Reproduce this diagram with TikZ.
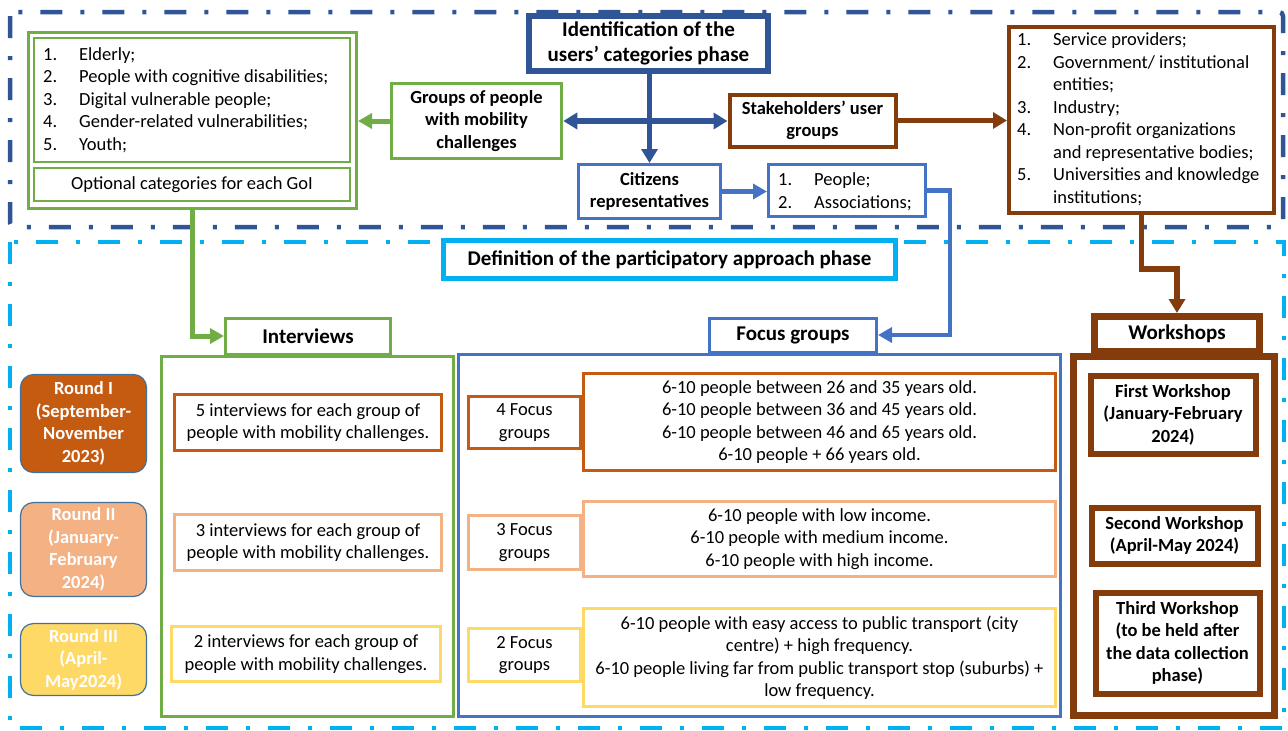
\documentclass[tikz,border=0pt]{standalone}
\usepackage{fontspec}
\setmainfont{Carlito}
\usetikzlibrary{arrows.meta}
\definecolor{dblue}{HTML}{2F5597}
\definecolor{cyanb}{HTML}{00B0F0}
\definecolor{grn}{HTML}{70AD47}
\definecolor{brn}{HTML}{843C0C}
\definecolor{blu}{HTML}{4472C4}
\definecolor{org}{HTML}{C55A11}
\definecolor{lorg}{HTML}{F4B183}
\definecolor{ylw}{HTML}{FFD966}
\definecolor{rbord}{HTML}{41719C}
\newcommand\mybody{\fontsize{18.5}{22.5}\selectfont}
\newcommand\mytitle{\fontsize{21}{25}\selectfont\bfseries}
\newcommand\nb[1]{\makebox[36pt][l]{#1}}
\begin{document}
\begin{tikzpicture}[x=1pt,y=-1pt,
  box/.style={draw, fill=white, rectangle, inner sep=0pt, align=center, font=\mybody},
  bbox/.style={box, font=\mybody\bfseries},
  tbox/.style={box, font=\mytitle},
  sz/.style 2 args={minimum width=#1, minimum height=#2},
  rnd/.style={draw=rbord, line width=1.2pt, rounded corners=13pt, text=white, font=\mybody\bfseries, align=center, inner sep=0pt},
  txt/.style={inner sep=0pt, align=left, font=\mybody, anchor=west},
  dashdot/.style={line width=4.5pt, dash pattern=on 22pt off 18pt on 4pt off 18pt},
  tipL/.style={-{Triangle[length=14pt,width=16pt]}},
  tipS/.style={-{Triangle[length=14pt,width=15pt]}}
]
\useasboundingbox (0,0) rectangle (1288,731);
% phase frames
\draw[dblue, dashdot, rounded corners=4pt] (10,12) rectangle (1283,227);
\draw[cyanb, dashdot, line width=4.5pt] (10,242) rectangle (1284,728);

% identification phase
\node[tbox, draw=dblue, line width=6.5pt, sz={239pt}{55pt}] (title) at (648.5,43.5) {Identification of the\\users’ categories phase};
\node[bbox, draw=grn, line width=3.5pt, sz={170pt}{75pt}] (groups) at (476.5,121) {Groups of people\\with mobility\\challenges};
\node[bbox, draw=brn, line width=4pt, sz={166pt}{52pt}] (stake) at (812.5,120.5) {Stakeholders’ user\\groups};
\node[bbox, draw=blu, line width=3pt, sz={142pt}{54pt}] (cit) at (649.5,191.5) {Citizens\\representatives};
\node[box, draw=blu, line width=3pt, sz={157pt}{52pt}] (people) at (847,190.5) {};
\node[txt] (peopleT) at (778,192) {\nb{1.}People;\\\nb{2.}Associations;};

\node[box, draw=brn, line width=4pt, sz={265pt}{186pt}] (slist) at (1141.5,120) {};
\node[txt] (slistT) at (1017,119.5) {\nb{1.}Service providers;\\\nb{2.}Government/ institutional\\\nb{}entities;\\\nb{3.}Industry;\\\nb{4.}Non-profit organizations\\\nb{}and representative bodies;\\\nb{5.}Universities and knowledge\\\nb{}institutions;};

\node[box, draw=grn, line width=3pt, sz={328pt}{176pt}] (glist) at (192.5,120.5) {};
\node[box, draw=grn, line width=1.5pt, sz={316pt}{124pt}] (gl1) at (192,100) {};
\node[box, draw=grn, line width=1.5pt, sz={316pt}{33pt}] (gl2) at (192,184.5) {Optional categories for each GoI};
\node[txt] (gl1T) at (43,100) {\nb{1.}Elderly;\\\nb{2.}People with cognitive disabilities;\\\nb{3.}Digital vulnerable people;\\\nb{4.}Gender-related vulnerabilities;\\\nb{5.}Youth;};

% participatory approach phase
\node[tbox, draw=cyanb, line width=5pt, sz={452pt}{38pt}] (def) at (669.5,259.5) {Definition of the participatory approach phase};

\node[box, draw=grn, line width=3pt, sz={292pt}{360pt}] (intbig) at (307.5,536.5) {};
\node[tbox, draw=grn, line width=3pt, sz={165pt}{36pt}] (intlab) at (308,336) {Interviews};
\node[box, draw=blu, line width=3pt, sz={602pt}{362pt}] (focbig) at (759.5,535.5) {};
\node[tbox, draw=blu, line width=3pt, sz={167pt}{34pt}] (foclab) at (793,335) {Focus groups};
\node[box, draw=brn, line width=7pt, sz={201pt}{359pt}] (wsbig) at (1174,536) {};
\node[tbox, draw=brn, line width=7pt, sz={165pt}{35pt}] (wslab) at (1177,334) {Workshops};

% rounds
\node[rnd, fill=org, sz={126pt}{98pt}] (r1) at (83.5,423.5) {Round I\\(September-\\November\\2023)};
\node[rnd, fill=lorg, sz={126pt}{94pt}] (r2) at (83.5,549.5) {Round II\\(January-\\February\\2024)};
\node[rnd, fill=ylw, sz={126pt}{72pt}] (r3) at (83.5,659.5) {Round III\\(April-\\May2024)};

% interviews
\node[box, draw=org, line width=3.5pt, sz={267pt}{56pt}] (i1) at (308,422.5) {5 interviews for each group of\\people with mobility challenges.};
\node[box, draw=lorg, line width=3.5pt, sz={267pt}{56pt}] (i2) at (308,542.5) {3 interviews for each group of\\people with mobility challenges.};
\node[box, draw=ylw, line width=3.5pt, sz={269pt}{55pt}] (i3) at (306,654) {2 interviews for each group of\\people with mobility challenges.};

% focus groups
\node[box, draw=org, line width=3.5pt, sz={112pt}{52pt}] (f1a) at (524.5,422.5) {4 Focus\\groups};
\node[box, draw=org, line width=3.5pt, sz={472pt}{97pt}] (f1b) at (819.5,422) {6-10 people between 26 and 35 years old.\\6-10 people between 36 and 45 years old.\\6-10 people between 46 and 65 years old.\\6-10 people + 66 years old.};
\node[box, draw=lorg, line width=3.5pt, sz={112pt}{54pt}] (f2a) at (524.5,542.5) {3 Focus\\groups};
\node[box, draw=lorg, line width=3.5pt, sz={472pt}{75pt}] (f2b) at (819.5,539) {6-10 people with low income.\\6-10 people with medium income.\\6-10 people with high income.};
\node[box, draw=ylw, line width=3.5pt, sz={112pt}{53pt}] (f3a) at (524.5,655) {2 Focus\\groups};
\node[box, draw=ylw, line width=3.5pt, sz={472pt}{98pt}] (f3b) at (819.5,657.5) {6-10 people with easy access to public transport (city\\centre) + high frequency.\\6-10 people living far from public transport stop (suburbs) +\\low frequency.};

% workshops
\node[bbox, draw=brn, line width=6pt, sz={165pt}{78pt}] (ws1) at (1173,414.5) {First Workshop\\(January-February\\2024)};
\node[bbox, draw=brn, line width=6pt, sz={166pt}{56pt}] (ws2) at (1174.5,535.5) {Second Workshop\\(April-May 2024)};
\node[bbox, draw=brn, line width=6pt, sz={164pt}{101pt}] (ws3) at (1177.5,643) {Third Workshop\\(to be held after\\the data collection\\phase)};

% connectors
\draw[dblue, line width=5.5pt, tipL] (cit.north |- title.south) -- (cit.north);
\draw[dblue, line width=5.5pt, {Triangle[length=14pt,width=16pt]}-{Triangle[length=14pt,width=16pt]}] (groups.east) -- (groups.east -| stake.west);
\draw[grn, line width=5pt, tipS] (groups.west) -- (groups.west -| glist.east);
\draw[brn, line width=5.5pt, tipL] (stake.east) -- (stake.east -| slist.west);
\draw[blu, line width=4.5pt, tipS] (cit.east) -- (cit.east -| people.west);
\draw[blu, line width=4.5pt, tipS] (people.east) -- ++(23,0) |- (foclab.east);
\draw[grn, line width=5pt, tipS] (glist.south) |- (intlab.west);
\draw[brn, line width=5.5pt, tipL] (slist.south) -- ++(0,54) -| (wslab.north);
\end{tikzpicture}
\end{document}
